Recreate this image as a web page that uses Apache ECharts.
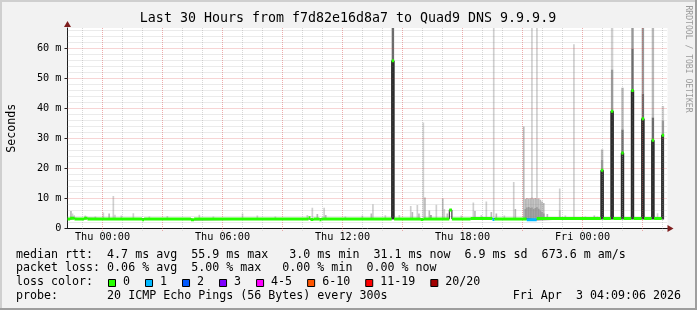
<!DOCTYPE html>
<html>
<head>
<meta charset="utf-8">
<script src="https://cdn.jsdelivr.net/npm/echarts@6/dist/echarts.min.js"></script>
<style>
html,body{margin:0;padding:0;background:#f2f2f2;}
#c{width:697px;height:310px;}
</style>
</head>
<body>
<div id="c"></div>
<script>
// ---------------- data ----------------
// time axis: hours relative to Thu 00:00
const xTickHours = [0, 6, 12, 18, 24];
const xTickLabels = ['Thu 00:00', 'Thu 06:00', 'Thu 12:00', 'Thu 18:00', 'Fri 00:00'];
const hourGrid = [-1,0,1,2,3,4,5,6,7,8,9,10,11,12,13,14,15,16,17,18,19,20,21,22,23,24,25,26,27,28];
const msGrid = [2,4,6,8,10,12,14,16,18,20,22,24,26,28,30,32,34,36,38,40,42,44,46,48,50,52,54,56,58,60,62,64,66];

// median rtt change points: [hour, ms, loss class]
const medianSteps = [
  [-1.75, 3.2, 0], [-1.62, 3.4, 0], [-1.40, 3.2, 0], [-0.92, 3.4, 0], [-0.75, 3.2, 0],
  [1.98, 2.9, 0], [2.08, 3.2, 0], [4.42, 2.9, 0], [4.58, 3.2, 0],
  [10.30, 3.6, 0], [10.40, 3.0, 0], [10.55, 3.2, 0], [10.85, 2.9, 0], [10.95, 3.2, 0],
  [14.46, 55.9, 0], [14.58, 3.2, 0], [15.90, 3.0, 0], [16.05, 3.2, 0],
  [17.34, 6.2, 0], [17.47, 3.2, 0], [18.40, 3.3, 0],
  [19.50, 3.0, 1], [19.60, 3.2, 0], [21.21, 2.9, 1], [21.71, 3.3, 0],
  [24.92, 19.4, 0], [25.04, 3.3, 0], [25.42, 39.1, 0], [25.54, 3.3, 0],
  [25.94, 25.2, 0], [26.06, 3.3, 0], [26.44, 46.0, 0], [26.56, 3.3, 0],
  [26.96, 36.6, 0], [27.08, 3.3, 0], [27.46, 29.4, 0], [27.58, 3.3, 0],
  [27.96, 31.1, 0]
];
const medianEnd = 28.08;

// 5-minute smoke columns: [hour, low ms, high ms, density class]
const smokeColumns = [
  [-1.62, 3, 5.8, 2], [-1.54, 3, 5.0, 1], [-1.46, 3, 4.4, 1], [-0.90, 3, 4.3, 1], [-0.40, 3, 4.0, 1],
  [0.00, 3, 5.3, 1], [0.29, 3, 5.0, 2], [0.50, 3, 10.8, 1], [0.58, 3, 4.6, 1], [0.90, 3, 4.3, 1],
  [1.50, 3, 5.1, 1], [2.30, 3, 4.0, 1], [3.20, 3, 4.2, 1], [4.80, 3, 4.6, 1], [5.50, 3, 4.0, 1],
  [6.96, 3, 5.0, 1], [7.70, 3, 4.3, 1], [8.60, 3, 4.0, 1], [10.20, 3, 4.5, 1], [10.45, 3, 6.9, 1],
  [10.70, 3, 4.8, 2], [11.04, 3, 6.9, 1], [11.12, 3, 4.5, 2], [12.10, 3, 4.0, 1], [12.95, 3, 4.3, 1],
  [13.40, 3, 5.0, 2], [13.48, 3, 8.1, 1], [14.10, 3, 4.4, 1], [14.80, 3, 4.5, 1],
  [15.37, 3, 7.5, 1], [15.45, 3, 5.5, 2], [15.70, 3, 7.8, 1], [15.78, 3, 5.0, 2],
  [16.00, 3, 35.3, 1], [16.08, 3, 10.3, 2], [16.30, 3, 6.0, 2], [16.38, 3, 4.5, 3],
  [16.65, 3, 7.9, 1], [16.97, 3, 10.0, 2], [17.05, 3, 6.5, 1], [17.20, 3, 5.0, 2],
  [17.90, 3, 4.3, 1], [18.50, 3, 8.7, 1], [18.58, 3, 5.8, 2], [18.90, 3, 4.5, 1],
  [19.15, 3, 9.0, 1], [19.40, 3, 5.5, 2], [19.52, 3, 67, 1], [19.65, 3, 5.0, 2],
  [20.05, 3, 4.3, 1], [20.52, 3, 15.5, 1], [20.60, 3, 6.5, 2], [21.02, 3, 34.0, 2],
  [21.10, 3, 9.8, 2], [21.18, 3, 10.2, 2], [21.27, 3, 10.0, 2], [21.35, 3, 10.1, 2],
  [21.43, 3, 67, 1], [21.43, 3, 10.3, 2], [21.52, 3, 10.0, 2], [21.60, 3, 10.2, 2],
  [21.68, 3, 67, 1], [21.68, 3, 9.8, 2], [21.77, 3, 10.0, 2], [21.85, 3, 9.6, 2],
  [21.93, 3, 9.0, 2], [22.02, 3, 8.5, 2],
  [21.10, 3, 6.5, 3], [21.18, 3, 7.0, 3], [21.27, 3, 7.2, 3], [21.35, 3, 6.8, 3],
  [21.43, 3, 7.0, 3], [21.52, 3, 6.5, 3], [21.60, 3, 6.8, 3], [21.68, 3, 7.1, 3],
  [21.77, 3, 6.6, 3], [21.85, 3, 6.0, 3], [21.93, 3, 5.5, 3], [22.02, 3, 5.0, 3],
  [22.20, 3, 4.8, 2], [22.82, 3, 13.3, 1], [22.82, 3, 6.0, 2], [23.10, 3, 4.3, 1],
  [23.53, 3, 61.4, 1], [24.10, 3, 4.0, 1], [24.55, 3, 4.3, 2], [24.70, 3, 4.0, 1],
  [27.71, 3, 5.1, 1]
];

// smoke of the spike periods: [start hour, end hour, low ms, high ms, density class]
const spikeSmoke = [
  [14.46, 14.58, 3, 55.9, 5], [14.46, 14.58, 55.9, 67, 4],
  [24.92, 25.04, 3, 19.4, 5], [24.92, 25.04, 19.4, 23, 3], [24.92, 25.04, 23, 26.3, 2],
  [25.42, 25.54, 3, 39.1, 5], [25.42, 25.54, 39.1, 53, 3], [25.42, 25.54, 53, 67, 1],
  [25.94, 26.06, 3, 25.2, 5], [25.94, 26.06, 25.2, 33, 4], [25.94, 26.06, 33, 46.9, 2],
  [26.44, 26.56, 3, 46.0, 5], [26.44, 26.56, 46.0, 60, 4], [26.44, 26.56, 60, 67, 3],
  [26.96, 27.08, 3, 36.6, 5], [26.96, 27.08, 36.6, 45, 4], [26.96, 27.08, 45, 67, 3],
  [27.46, 27.58, 3, 29.4, 5], [27.46, 27.58, 29.4, 37, 4], [27.46, 27.58, 37, 67, 2],
  [27.96, 28.08, 3, 31.1, 5], [27.96, 28.08, 31.1, 36, 3], [27.96, 28.08, 36, 40.8, 1]
];

const lossLabels = ['0', '1', '2', '3', '4-5', '6-10', '11-19', '20/20'];
const lossColors = ['#26ff00', '#00b8ff', '#0059ff', '#7e00ff', '#ff00ff', '#ff5500', '#ff0000', '#a10000'];

const titleText = 'Last 30 Hours from f7d82e16d8a7 to Quad9 DNS 9.9.9.9';
const statLines = [
  'median rtt:  4.7 ms avg  55.9 ms max   3.0 ms min  31.1 ms now  6.9 ms sd  673.6 m am/s',
  'packet loss: 0.06 % avg  5.00 % max   0.00 % min  0.00 % now'
];
const lossLine = 'loss color:';
const probeLine = 'probe:       20 ICMP Echo Pings (56 Bytes) every 300s';
const stampText = 'Fri Apr  3 04:09:06 2026';
const watermark = 'RRDTOOL / TOBI OETIKER';
const yName = 'Seconds';

// ---------------- chart ----------------
const MONO = 'DejaVu Sans Mono';
const X_MIN = -1.75, X_MAX = 28.25, Y_MAX = 66.83;
const STEP_H = 5 / 60;
const densityColors = ['#ffffff', '#cfcfcf', '#b8b8b8', '#999999', '#6c6c6c', '#383838'];
const MINOR = 'rgba(143,143,143,0.36)';
const MAJOR = 'rgba(222,79,79,0.47)';

const smokeData = smokeColumns.map(r => [r[0], r[0] + STEP_H, r[1], r[2], r[3]])
  .concat(spikeSmoke)
  .sort((a, b) => a[4] - b[4]);

const gridData = [];
hourGrid.forEach(h => gridData.push([h, 0, h % 3 === 0 ? 1 : 0]));
msGrid.forEach(v => gridData.push([v, 1, v % 10 === 0 ? 1 : 0]));

const medianLine = medianSteps.map(s => [s[0], s[1]]);
medianLine.push([medianEnd, medianSteps[medianSteps.length - 1][1]]);

const lossSegs = medianSteps.map((s, i) => [s[0], i + 1 < medianSteps.length ? medianSteps[i + 1][0] : medianEnd, s[1], s[2]]);

function renderSmoke(params, api) {
  const a = api.coord([api.value(0), api.value(3)]);
  const b = api.coord([api.value(1), api.value(2)]);
  return {type: 'rect', shape: {x: a[0], y: a[1], width: b[0] - a[0], height: b[1] - a[1]},
    style: {fill: densityColors[api.value(4)]}};
}
function renderGrid(params, api) {
  const v = api.value(0), isY = api.value(1), major = api.value(2);
  const cs = params.coordSys;
  let shape;
  if (isY) {
    const p = api.coord([X_MIN, v]);
    shape = {x1: cs.x, y1: p[1], x2: cs.x + cs.width, y2: p[1]};
  } else {
    const p = api.coord([v, 0]);
    shape = {x1: p[0], y1: cs.y, x2: p[0], y2: cs.y + cs.height + (major ? 3 : 2)};
  }
  return {type: 'line', shape: shape, style: {stroke: major ? MAJOR : MINOR, lineWidth: 1, lineDash: [1, 1]}};
}
function renderLoss(params, api) {
  const a = api.coord([api.value(0), api.value(2)]);
  const b = api.coord([api.value(1), api.value(2)]);
  return {type: 'line', shape: {x1: a[0], y1: a[1], x2: b[0], y2: b[1]},
    style: {stroke: lossColors[api.value(3)], lineWidth: 3, lineCap: 'butt'}};
}

function txt(text, x, y, size, align, color, rotation) {
  return {type: 'text', x: x, y: y, rotation: rotation || 0, silent: true, z: 100,
    style: {text: text, fill: color || '#000', fontSize: size, fontFamily: MONO,
      align: align || 'left', verticalAlign: 'middle', textAlign: align || 'left', textVerticalAlign: 'middle'}};
}

const CH = 7.02;
const graphics = [
  {type: 'rect', shape: {x: 0, y: 0, width: 697, height: 2}, style: {fill: '#cfcfcf'}, z: 100, silent: true},
  {type: 'rect', shape: {x: 0, y: 0, width: 2, height: 310}, style: {fill: '#cfcfcf'}, z: 100, silent: true},
  {type: 'rect', shape: {x: 695, y: 0, width: 2, height: 310}, style: {fill: '#9e9e9e'}, z: 100, silent: true},
  {type: 'rect', shape: {x: 0, y: 308, width: 697, height: 2}, style: {fill: '#9e9e9e'}, z: 100, silent: true},
  txt(titleText, 348, 19, 13.3, 'center'),
  txt(watermark, 688, 59, 8.1, 'center', '#9a9a9a', -Math.PI / 2),
  txt(statLines[0], 16, 254.7, 11.65),
  txt(statLines[1], 16, 268.4, 11.65),
  txt(lossLine, 16, 282.3, 11.65),
  txt(probeLine, 16, 296.3, 11.65),
  txt(stampText, 681, 296.3, 11.65, 'right')
];
let sq = 108;
lossLabels.forEach((lab, i) => {
  graphics.push({type: 'rect', shape: {x: sq + 0.5, y: 279.5, width: 7, height: 7},
    style: {fill: lossColors[i], stroke: '#000', lineWidth: 1}, z: 100, silent: true});
  graphics.push(txt(lab, sq + 15, 282.3, 11.65));
  sq = sq + 15 + lab.length * CH + 15;
});

const axisFont = {fontFamily: MONO, fontSize: 10.2, color: '#000'};
const option = {
  animation: false,
  backgroundColor: '#f2f2f2',
  grid: {left: 67.5, top: 28, width: 600, height: 200.5, show: true, backgroundColor: '#ffffff',
    borderWidth: 0, containLabel: false, outerBoundsMode: 'none'},
  xAxis: [{
    type: 'value', min: X_MIN, max: X_MAX, position: 'bottom',
    axisLine: {show: true, onZero: false, lineStyle: {color: '#111', width: 1}},
    axisTick: {show: false}, splitLine: {show: false}, minorSplitLine: {show: false},
    axisLabel: Object.assign({customValues: xTickHours, margin: 4,
      formatter: v => { const i = xTickHours.indexOf(v); return i >= 0 ? xTickLabels[i] : ''; }}, axisFont)
  }, {
    type: 'value', min: X_MIN, max: X_MAX, position: 'bottom',
    axisLine: {show: true, onZero: false, symbol: ['none', 'triangle'], symbolSize: [7, 6], symbolOffset: [0, 3],
      lineStyle: {color: '#7f1f1f', width: 0}},
    axisTick: {show: false}, axisLabel: {show: false}, splitLine: {show: false}
  }],
  yAxis: [{
    type: 'value', min: 0, max: Y_MAX, interval: 10, position: 'left',
    axisLine: {show: true, onZero: false, lineStyle: {color: '#1f1f1f', width: 1}},
    axisTick: {show: true, length: 3, lineStyle: {color: '#1f1f1f'}},
    splitLine: {show: false},
    axisLabel: Object.assign({margin: 6, showMaxLabel: false,
      formatter: v => v === 0 ? '0' : v + ' m'}, axisFont),
    name: yName, nameLocation: 'middle', nameGap: 50,
    nameTextStyle: {fontFamily: MONO, fontSize: 11.65, color: '#000'}
  }, {
    type: 'value', min: 0, max: Y_MAX, position: 'left',
    axisLine: {show: true, onZero: false, symbol: ['none', 'triangle'], symbolSize: [7, 6], symbolOffset: [0, 4],
      lineStyle: {color: '#7f1f1f', width: 0}},
    axisTick: {show: false}, axisLabel: {show: false}, splitLine: {show: false}
  }],
  series: [
    {type: 'custom', name: 'smoke', renderItem: renderSmoke, data: smokeData, clip: true, z: 2, silent: true,
      xAxisIndex: 0, yAxisIndex: 0},
    {type: 'custom', name: 'grid', renderItem: renderGrid, data: gridData, clip: false, z: 3, silent: true,
      xAxisIndex: 0, yAxisIndex: 0},
    {type: 'line', name: 'median', data: medianLine, step: 'end', showSymbol: false, symbol: 'none',
      lineStyle: {color: '#1a1a1a', width: 1}, z: 4, silent: true, clip: true, xAxisIndex: 0, yAxisIndex: 0},
    {type: 'custom', name: 'loss', renderItem: renderLoss, data: lossSegs, clip: true, z: 5, silent: true,
      xAxisIndex: 0, yAxisIndex: 0}
  ],
  graphic: graphics
};
const chart = echarts.init(document.getElementById('c'), null, {renderer: 'canvas', width: 697, height: 310});
chart.setOption(option);
</script>
</body>
</html>
